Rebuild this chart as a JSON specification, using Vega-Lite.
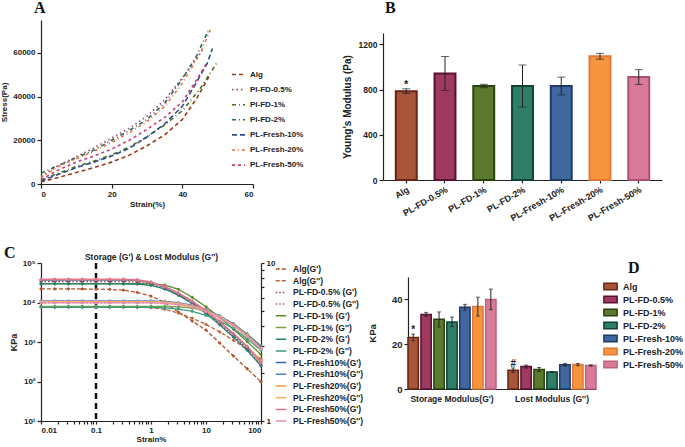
{
"$schema":"https://vega.github.io/schema/vega-lite/v6.json",
"padding":{"left":0,"top":0,"right":0,"bottom":0},
"config":{"view":{"stroke":null},
 "axis":{"labelFont":"Liberation Sans","titleFont":"Liberation Sans","labelFontWeight":"bold","titleFontWeight":"bold","labelColor":"#222","titleColor":"#222","domainColor":"#222","tickColor":"#222","grid":false,"domainWidth":1.2,"tickWidth":1.2,"tickSize":4,"labelPadding":2},
 "legend":{"labelFont":"Liberation Sans","labelFontWeight":"bold","labelColor":"#222","padding":0},
 "title":{"font":"Liberation Serif","fontWeight":"bold","fontSize":16,"color":"#111","frame":"group"}},
"resolve":{"scale":{"color":"independent","fill":"independent","stroke":"independent","strokeDash":"independent","shape":"independent"},"legend":{"color":"independent","fill":"independent","stroke":"independent","strokeDash":"independent","shape":"independent"}},
"spacing":22,
"vconcat":[
{"spacing":38,
 "resolve":{"scale":{"color":"independent","fill":"independent","stroke":"independent","strokeDash":"independent","shape":"independent"},"legend":{"color":"independent","fill":"independent","stroke":"independent","strokeDash":"independent","shape":"independent"}},
 "hconcat":[
 {"width":212,"height":164,
  "title":{"text":"A","anchor":"start","offset":4,"dx":-7},
  "data":{"values":[
   {"s":"Alg","x":0,"y":1000},{"s":"Alg","x":5,"y":3000},{"s":"Alg","x":10,"y":5300},{"s":"Alg","x":15,"y":7500},{"s":"Alg","x":20,"y":10000},{"s":"Alg","x":25,"y":13200},{"s":"Alg","x":30,"y":17500},{"s":"Alg","x":35,"y":22500},{"s":"Alg","x":40,"y":29500},{"s":"Alg","x":44,"y":39000},{"s":"Alg","x":47.5,"y":49000},
   {"s":"PI-FD-0.5%","x":0,"y":3500},{"s":"PI-FD-0.5%","x":5,"y":8500},{"s":"PI-FD-0.5%","x":10,"y":12500},{"s":"PI-FD-0.5%","x":15,"y":16500},{"s":"PI-FD-0.5%","x":20,"y":21000},{"s":"PI-FD-0.5%","x":25,"y":25500},{"s":"PI-FD-0.5%","x":30,"y":31000},{"s":"PI-FD-0.5%","x":35,"y":38500},{"s":"PI-FD-0.5%","x":40,"y":48500},{"s":"PI-FD-0.5%","x":44,"y":57500},{"s":"PI-FD-0.5%","x":46,"y":62000},
   {"s":"PI-FD-1%","x":0,"y":1800},{"s":"PI-FD-1%","x":5,"y":5000},{"s":"PI-FD-1%","x":10,"y":8000},{"s":"PI-FD-1%","x":15,"y":10500},{"s":"PI-FD-1%","x":20,"y":13300},{"s":"PI-FD-1%","x":25,"y":17000},{"s":"PI-FD-1%","x":30,"y":21500},{"s":"PI-FD-1%","x":35,"y":27000},{"s":"PI-FD-1%","x":40,"y":33500},{"s":"PI-FD-1%","x":45,"y":43500},{"s":"PI-FD-1%","x":48,"y":51000},{"s":"PI-FD-1%","x":50,"y":56000},
   {"s":"PI-FD-2%","x":0,"y":5000},{"s":"PI-FD-2%","x":5,"y":8500},{"s":"PI-FD-2%","x":10,"y":12000},{"s":"PI-FD-2%","x":15,"y":15500},{"s":"PI-FD-2%","x":20,"y":20000},{"s":"PI-FD-2%","x":25,"y":24500},{"s":"PI-FD-2%","x":30,"y":29500},{"s":"PI-FD-2%","x":35,"y":37000},{"s":"PI-FD-2%","x":40,"y":48000},{"s":"PI-FD-2%","x":44,"y":58500},{"s":"PI-FD-2%","x":47.3,"y":70000},
   {"s":"PL-Fresh-10%","x":0,"y":1300},{"s":"PL-Fresh-10%","x":5,"y":4500},{"s":"PL-Fresh-10%","x":10,"y":7500},{"s":"PL-Fresh-10%","x":15,"y":10000},{"s":"PL-Fresh-10%","x":20,"y":12800},{"s":"PL-Fresh-10%","x":25,"y":16300},{"s":"PL-Fresh-10%","x":30,"y":21500},{"s":"PL-Fresh-10%","x":35,"y":27500},{"s":"PL-Fresh-10%","x":40,"y":35500},{"s":"PL-Fresh-10%","x":44,"y":46500},{"s":"PL-Fresh-10%","x":47,"y":55000},{"s":"PL-Fresh-10%","x":48.5,"y":62000},
   {"s":"PL-Fresh-20%","x":0,"y":3000},{"s":"PL-Fresh-20%","x":5,"y":8000},{"s":"PL-Fresh-20%","x":10,"y":11500},{"s":"PL-Fresh-20%","x":15,"y":15000},{"s":"PL-Fresh-20%","x":20,"y":19000},{"s":"PL-Fresh-20%","x":25,"y":23500},{"s":"PL-Fresh-20%","x":30,"y":28500},{"s":"PL-Fresh-20%","x":35,"y":35500},{"s":"PL-Fresh-20%","x":40,"y":46000},{"s":"PL-Fresh-20%","x":45,"y":59500},{"s":"PL-Fresh-20%","x":48.2,"y":71500},
   {"s":"PL-Fresh-50%","x":0,"y":2000},{"s":"PL-Fresh-50%","x":5,"y":6500},{"s":"PL-Fresh-50%","x":10,"y":10000},{"s":"PL-Fresh-50%","x":15,"y":12800},{"s":"PL-Fresh-50%","x":20,"y":16000},{"s":"PL-Fresh-50%","x":25,"y":20000},{"s":"PL-Fresh-50%","x":30,"y":25000},{"s":"PL-Fresh-50%","x":35,"y":30500},{"s":"PL-Fresh-50%","x":40,"y":37500},{"s":"PL-Fresh-50%","x":44,"y":47500},{"s":"PL-Fresh-50%","x":47,"y":55500}
  ]},
  "mark":{"type":"line","strokeWidth":1.6},
  "encoding":{
   "x":{"field":"x","type":"quantitative","scale":{"domain":[0,60]},"axis":{"values":[0,20,40,60],"title":"Strain(%)","labelFontSize":8,"titleFontSize":8,"titlePadding":2}},
   "y":{"field":"y","type":"quantitative","scale":{"domain":[0,75000]},"axis":{"values":[0,20000,40000,60000],"format":"d","title":"Stress(Pa)","labelFontSize":8,"titleFontSize":8,"titlePadding":4}},
   "color":{"field":"s","type":"nominal","sort":null,"scale":{"domain":["Alg","PI-FD-0.5%","PI-FD-1%","PI-FD-2%","PL-Fresh-10%","PL-Fresh-20%","PL-Fresh-50%"],"range":["#9E3A1C","#A5407E","#4E6E1A","#1E6E58","#2E4E8E","#F0703E","#C8407A"]},"legend":{"orient":"none","legendX":190,"legendY":47,"title":null,"symbolType":"stroke","symbolSize":170,"symbolStrokeWidth":1.6,"labelFontSize":8,"rowPadding":3.1,"labelOffset":4}},
   "strokeDash":{"field":"s","type":"nominal","sort":null,"scale":{"domain":["Alg","PI-FD-0.5%","PI-FD-1%","PI-FD-2%","PL-Fresh-10%","PL-Fresh-20%","PL-Fresh-50%"],"range":[[4,3],[1.5,3],[4,3,1,3],[4,3,1,3],[5,3],[3,3,1,3],[3,3]]},"legend":{"orient":"none","legendX":190,"legendY":47,"title":null,"symbolType":"stroke","symbolSize":170,"symbolStrokeWidth":1.6,"labelFontSize":8,"rowPadding":3.1,"labelOffset":4}}
  }
 },
 {"width":279,"height":160,
  "title":{"text":"B","anchor":"start","offset":4,"dx":2},
  "data":{"values":[
   {"s":"Alg","v":785,"lo":765,"hi":807,"ann":"*"},
   {"s":"PL-FD-0.5%","v":942,"lo":792,"hi":1092,"ann":""},
   {"s":"PL-FD-1%","v":831,"lo":816,"hi":846,"ann":""},
   {"s":"PL-FD-2%","v":831,"lo":645,"hi":1017,"ann":""},
   {"s":"PL-Fresh-10%","v":831,"lo":752,"hi":910,"ann":""},
   {"s":"PL-Fresh-20%","v":1095,"lo":1068,"hi":1120,"ann":""},
   {"s":"PL-Fresh-50%","v":911,"lo":845,"hi":976,"ann":""}
  ]},
  "encoding":{"x":{"field":"s","type":"nominal","sort":null,"scale":{"paddingInner":0.46,"paddingOuter":0.33},"axis":{"title":null,"labelAngle":-30,"labelFontSize":9,"tickSize":3}}},
  "layer":[
   {"mark":{"type":"bar","strokeWidth":2},
    "encoding":{"y":{"field":"v","type":"quantitative","scale":{"domain":[0,1250],"range":[160,13]},"axis":{"values":[0,400,800,1200],"format":"d","title":"Young's Modulus (Pa)","labelFontSize":8.5,"titleFontSize":10,"titlePadding":6}},
     "fill":{"field":"s","type":"nominal","sort":null,"scale":{"domain":["Alg","PL-FD-0.5%","PL-FD-1%","PL-FD-2%","PL-Fresh-10%","PL-Fresh-20%","PL-Fresh-50%"],"range":["#A8553A","#9E3A60","#5C7A2C","#2E7E68","#41689E","#F7943E","#D97B98"]},"legend":null},
     "stroke":{"field":"s","type":"nominal","sort":null,"scale":{"domain":["Alg","PL-FD-0.5%","PL-FD-1%","PL-FD-2%","PL-Fresh-10%","PL-Fresh-20%","PL-Fresh-50%"],"range":["#6A2410","#5A1030","#2C4210","#0E4234","#1E3A66","#E07A38","#B0506E"]},"legend":null}}},
   {"mark":{"type":"rule","color":"#222","strokeWidth":1},"encoding":{"y":{"field":"lo","type":"quantitative"},"y2":{"field":"hi"}}},
   {"mark":{"type":"tick","color":"#222","thickness":1,"size":8},"encoding":{"y":{"field":"lo","type":"quantitative"}}},
   {"mark":{"type":"tick","color":"#222","thickness":1,"size":8},"encoding":{"y":{"field":"hi","type":"quantitative"}}},
   {"mark":{"type":"text","baseline":"bottom","dy":1,"fontSize":11,"fontWeight":"bold","font":"Liberation Sans","color":"#222"},"encoding":{"y":{"field":"hi","type":"quantitative"},"text":{"field":"ann"}}}
  ]
 }
]},
{"spacing":3,
 "resolve":{"scale":{"color":"independent","fill":"independent","stroke":"independent","strokeDash":"independent","shape":"independent"},"legend":{"color":"independent","fill":"independent","stroke":"independent","strokeDash":"independent","shape":"independent"}},
 "hconcat":[
 {"width":220,"height":158,
  "title":{"text":"C","anchor":"start","dx":-37,"dy":9,"offset":0},
  "layer":[
   {"data":{"values":[
{"s":"Alg(G')","x":0.01,"y":22000},{"s":"Alg(G')","x":0.0178,"y":22000},{"s":"Alg(G')","x":0.0316,"y":22000},{"s":"Alg(G')","x":0.0562,"y":22000},{"s":"Alg(G')","x":0.1,"y":21800},{"s":"Alg(G')","x":0.178,"y":21500},{"s":"Alg(G')","x":0.316,"y":20500},{"s":"Alg(G')","x":0.562,"y":18000},{"s":"Alg(G')","x":1,"y":14500},{"s":"Alg(G')","x":1.78,"y":10000},{"s":"Alg(G')","x":3.16,"y":5700},{"s":"Alg(G')","x":5.62,"y":3400},{"s":"Alg(G')","x":10,"y":2000},{"s":"Alg(G')","x":17.8,"y":940},{"s":"Alg(G')","x":31.6,"y":440},{"s":"Alg(G')","x":56.2,"y":210},{"s":"Alg(G')","x":100,"y":98},
{"s":"Alg(G'')","x":0.01,"y":7700},{"s":"Alg(G'')","x":0.0178,"y":7700},{"s":"Alg(G'')","x":0.0316,"y":7700},{"s":"Alg(G'')","x":0.0562,"y":7700},{"s":"Alg(G'')","x":0.1,"y":7700},{"s":"Alg(G'')","x":0.178,"y":7700},{"s":"Alg(G'')","x":0.316,"y":7700},{"s":"Alg(G'')","x":0.562,"y":7650},{"s":"Alg(G'')","x":1,"y":7400},{"s":"Alg(G'')","x":1.78,"y":6700},{"s":"Alg(G'')","x":3.16,"y":5400},{"s":"Alg(G'')","x":5.62,"y":4000},{"s":"Alg(G'')","x":10,"y":2800},{"s":"Alg(G'')","x":17.8,"y":1800},{"s":"Alg(G'')","x":31.6,"y":1100},{"s":"Alg(G'')","x":56.2,"y":650},{"s":"Alg(G'')","x":100,"y":370},
{"s":"PL-FD-0.5% (G')","x":0.01,"y":34000},{"s":"PL-FD-0.5% (G')","x":0.0178,"y":34000},{"s":"PL-FD-0.5% (G')","x":0.0316,"y":34000},{"s":"PL-FD-0.5% (G')","x":0.0562,"y":34000},{"s":"PL-FD-0.5% (G')","x":0.1,"y":34000},{"s":"PL-FD-0.5% (G')","x":0.178,"y":34000},{"s":"PL-FD-0.5% (G')","x":0.316,"y":34000},{"s":"PL-FD-0.5% (G')","x":0.562,"y":33000},{"s":"PL-FD-0.5% (G')","x":1,"y":28900},{"s":"PL-FD-0.5% (G')","x":1.78,"y":22100},{"s":"PL-FD-0.5% (G')","x":3.16,"y":15300},{"s":"PL-FD-0.5% (G')","x":5.62,"y":9500},{"s":"PL-FD-0.5% (G')","x":10,"y":5440},{"s":"PL-FD-0.5% (G')","x":17.8,"y":2890},{"s":"PL-FD-0.5% (G')","x":31.6,"y":1430},{"s":"PL-FD-0.5% (G')","x":56.2,"y":660},{"s":"PL-FD-0.5% (G')","x":100,"y":260},
{"s":"PL-FD-0.5% (G'')","x":0.01,"y":10000},{"s":"PL-FD-0.5% (G'')","x":0.0178,"y":10000},{"s":"PL-FD-0.5% (G'')","x":0.0316,"y":10000},{"s":"PL-FD-0.5% (G'')","x":0.0562,"y":10000},{"s":"PL-FD-0.5% (G'')","x":0.1,"y":10000},{"s":"PL-FD-0.5% (G'')","x":0.178,"y":10000},{"s":"PL-FD-0.5% (G'')","x":0.316,"y":10000},{"s":"PL-FD-0.5% (G'')","x":0.562,"y":10000},{"s":"PL-FD-0.5% (G'')","x":1,"y":10000},{"s":"PL-FD-0.5% (G'')","x":1.78,"y":9700},{"s":"PL-FD-0.5% (G'')","x":3.16,"y":9000},{"s":"PL-FD-0.5% (G'')","x":5.62,"y":7800},{"s":"PL-FD-0.5% (G'')","x":10,"y":6000},{"s":"PL-FD-0.5% (G'')","x":17.8,"y":4200},{"s":"PL-FD-0.5% (G'')","x":31.6,"y":2600},{"s":"PL-FD-0.5% (G'')","x":56.2,"y":1400},{"s":"PL-FD-0.5% (G'')","x":100,"y":700},
{"s":"PL-FD-1% (G')","x":0.01,"y":30000},{"s":"PL-FD-1% (G')","x":0.0178,"y":30000},{"s":"PL-FD-1% (G')","x":0.0316,"y":30000},{"s":"PL-FD-1% (G')","x":0.0562,"y":30000},{"s":"PL-FD-1% (G')","x":0.1,"y":30000},{"s":"PL-FD-1% (G')","x":0.178,"y":30000},{"s":"PL-FD-1% (G')","x":0.316,"y":30000},{"s":"PL-FD-1% (G')","x":0.562,"y":30000},{"s":"PL-FD-1% (G')","x":1,"y":29400},{"s":"PL-FD-1% (G')","x":1.78,"y":27600},{"s":"PL-FD-1% (G')","x":3.16,"y":21600},{"s":"PL-FD-1% (G')","x":5.62,"y":13500},{"s":"PL-FD-1% (G')","x":10,"y":7800},{"s":"PL-FD-1% (G')","x":17.8,"y":4200},{"s":"PL-FD-1% (G')","x":31.6,"y":2100},{"s":"PL-FD-1% (G')","x":56.2,"y":1020},{"s":"PL-FD-1% (G')","x":100,"y":480},
{"s":"PL-FD-1% (G'')","x":0.01,"y":8000},{"s":"PL-FD-1% (G'')","x":0.0178,"y":8000},{"s":"PL-FD-1% (G'')","x":0.0316,"y":8000},{"s":"PL-FD-1% (G'')","x":0.0562,"y":8000},{"s":"PL-FD-1% (G'')","x":0.1,"y":8000},{"s":"PL-FD-1% (G'')","x":0.178,"y":8000},{"s":"PL-FD-1% (G'')","x":0.316,"y":8000},{"s":"PL-FD-1% (G'')","x":0.562,"y":8000},{"s":"PL-FD-1% (G'')","x":1,"y":8000},{"s":"PL-FD-1% (G'')","x":1.78,"y":8000},{"s":"PL-FD-1% (G'')","x":3.16,"y":7760},{"s":"PL-FD-1% (G'')","x":5.62,"y":7200},{"s":"PL-FD-1% (G'')","x":10,"y":6000},{"s":"PL-FD-1% (G'')","x":17.8,"y":4400},{"s":"PL-FD-1% (G'')","x":31.6,"y":2900},{"s":"PL-FD-1% (G'')","x":56.2,"y":1600},{"s":"PL-FD-1% (G'')","x":100,"y":800},
{"s":"PL-FD-2% (G')","x":0.01,"y":29500},{"s":"PL-FD-2% (G')","x":0.0178,"y":29500},{"s":"PL-FD-2% (G')","x":0.0316,"y":29500},{"s":"PL-FD-2% (G')","x":0.0562,"y":29500},{"s":"PL-FD-2% (G')","x":0.1,"y":29500},{"s":"PL-FD-2% (G')","x":0.178,"y":29500},{"s":"PL-FD-2% (G')","x":0.316,"y":29500},{"s":"PL-FD-2% (G')","x":0.562,"y":29200},{"s":"PL-FD-2% (G')","x":1,"y":27100},{"s":"PL-FD-2% (G')","x":1.78,"y":22100},{"s":"PL-FD-2% (G')","x":3.16,"y":15300},{"s":"PL-FD-2% (G')","x":5.62,"y":9400},{"s":"PL-FD-2% (G')","x":10,"y":5300},{"s":"PL-FD-2% (G')","x":17.8,"y":2700},{"s":"PL-FD-2% (G')","x":31.6,"y":1330},{"s":"PL-FD-2% (G')","x":56.2,"y":620},{"s":"PL-FD-2% (G')","x":100,"y":250},
{"s":"PL-FD-2% (G'')","x":0.01,"y":7500},{"s":"PL-FD-2% (G'')","x":0.0178,"y":7500},{"s":"PL-FD-2% (G'')","x":0.0316,"y":7500},{"s":"PL-FD-2% (G'')","x":0.0562,"y":7500},{"s":"PL-FD-2% (G'')","x":0.1,"y":7500},{"s":"PL-FD-2% (G'')","x":0.178,"y":7500},{"s":"PL-FD-2% (G'')","x":0.316,"y":7500},{"s":"PL-FD-2% (G'')","x":0.562,"y":7500},{"s":"PL-FD-2% (G'')","x":1,"y":7500},{"s":"PL-FD-2% (G'')","x":1.78,"y":7300},{"s":"PL-FD-2% (G'')","x":3.16,"y":6800},{"s":"PL-FD-2% (G'')","x":5.62,"y":6000},{"s":"PL-FD-2% (G'')","x":10,"y":4700},{"s":"PL-FD-2% (G'')","x":17.8,"y":3400},{"s":"PL-FD-2% (G'')","x":31.6,"y":2200},{"s":"PL-FD-2% (G'')","x":56.2,"y":1200},{"s":"PL-FD-2% (G'')","x":100,"y":620},
{"s":"PL-Fresh10%(G')","x":0.01,"y":37000},{"s":"PL-Fresh10%(G')","x":0.0178,"y":37000},{"s":"PL-Fresh10%(G')","x":0.0316,"y":37000},{"s":"PL-Fresh10%(G')","x":0.0562,"y":37000},{"s":"PL-Fresh10%(G')","x":0.1,"y":37000},{"s":"PL-Fresh10%(G')","x":0.178,"y":37000},{"s":"PL-Fresh10%(G')","x":0.316,"y":37000},{"s":"PL-Fresh10%(G')","x":0.562,"y":35900},{"s":"PL-Fresh10%(G')","x":1,"y":31450},{"s":"PL-Fresh10%(G')","x":1.78,"y":24050},{"s":"PL-Fresh10%(G')","x":3.16,"y":16650},{"s":"PL-Fresh10%(G')","x":5.62,"y":10360},{"s":"PL-Fresh10%(G')","x":10,"y":5920},{"s":"PL-Fresh10%(G')","x":17.8,"y":3150},{"s":"PL-Fresh10%(G')","x":31.6,"y":1550},{"s":"PL-Fresh10%(G')","x":56.2,"y":740},{"s":"PL-Fresh10%(G')","x":100,"y":315},
{"s":"PL-Fresh10%(G'')","x":0.01,"y":11000},{"s":"PL-Fresh10%(G'')","x":0.0178,"y":11000},{"s":"PL-Fresh10%(G'')","x":0.0316,"y":11000},{"s":"PL-Fresh10%(G'')","x":0.0562,"y":11000},{"s":"PL-Fresh10%(G'')","x":0.1,"y":11000},{"s":"PL-Fresh10%(G'')","x":0.178,"y":11000},{"s":"PL-Fresh10%(G'')","x":0.316,"y":11000},{"s":"PL-Fresh10%(G'')","x":0.562,"y":11000},{"s":"PL-Fresh10%(G'')","x":1,"y":11000},{"s":"PL-Fresh10%(G'')","x":1.78,"y":10700},{"s":"PL-Fresh10%(G'')","x":3.16,"y":9900},{"s":"PL-Fresh10%(G'')","x":5.62,"y":8600},{"s":"PL-Fresh10%(G'')","x":10,"y":6600},{"s":"PL-Fresh10%(G'')","x":17.8,"y":4600},{"s":"PL-Fresh10%(G'')","x":31.6,"y":2860},{"s":"PL-Fresh10%(G'')","x":56.2,"y":1540},{"s":"PL-Fresh10%(G'')","x":100,"y":770},
{"s":"PL-Fresh20%(G')","x":0.01,"y":38000},{"s":"PL-Fresh20%(G')","x":0.0178,"y":38000},{"s":"PL-Fresh20%(G')","x":0.0316,"y":38000},{"s":"PL-Fresh20%(G')","x":0.0562,"y":38000},{"s":"PL-Fresh20%(G')","x":0.1,"y":38000},{"s":"PL-Fresh20%(G')","x":0.178,"y":38000},{"s":"PL-Fresh20%(G')","x":0.316,"y":38000},{"s":"PL-Fresh20%(G')","x":0.562,"y":36900},{"s":"PL-Fresh20%(G')","x":1,"y":32300},{"s":"PL-Fresh20%(G')","x":1.78,"y":24700},{"s":"PL-Fresh20%(G')","x":3.16,"y":17100},{"s":"PL-Fresh20%(G')","x":5.62,"y":10640},{"s":"PL-Fresh20%(G')","x":10,"y":6080},{"s":"PL-Fresh20%(G')","x":17.8,"y":3230},{"s":"PL-Fresh20%(G')","x":31.6,"y":1600},{"s":"PL-Fresh20%(G')","x":56.2,"y":760},{"s":"PL-Fresh20%(G')","x":100,"y":340},
{"s":"PL-Fresh20%(G'')","x":0.01,"y":10500},{"s":"PL-Fresh20%(G'')","x":0.0178,"y":10500},{"s":"PL-Fresh20%(G'')","x":0.0316,"y":10500},{"s":"PL-Fresh20%(G'')","x":0.0562,"y":10500},{"s":"PL-Fresh20%(G'')","x":0.1,"y":10500},{"s":"PL-Fresh20%(G'')","x":0.178,"y":10500},{"s":"PL-Fresh20%(G'')","x":0.316,"y":10500},{"s":"PL-Fresh20%(G'')","x":0.562,"y":10500},{"s":"PL-Fresh20%(G'')","x":1,"y":10500},{"s":"PL-Fresh20%(G'')","x":1.78,"y":10200},{"s":"PL-Fresh20%(G'')","x":3.16,"y":9450},{"s":"PL-Fresh20%(G'')","x":5.62,"y":8200},{"s":"PL-Fresh20%(G'')","x":10,"y":6300},{"s":"PL-Fresh20%(G'')","x":17.8,"y":4400},{"s":"PL-Fresh20%(G'')","x":31.6,"y":2700},{"s":"PL-Fresh20%(G'')","x":56.2,"y":1470},{"s":"PL-Fresh20%(G'')","x":100,"y":680},
{"s":"PL-Fresh50%(G')","x":0.01,"y":39000},{"s":"PL-Fresh50%(G')","x":0.0178,"y":39000},{"s":"PL-Fresh50%(G')","x":0.0316,"y":39000},{"s":"PL-Fresh50%(G')","x":0.0562,"y":39000},{"s":"PL-Fresh50%(G')","x":0.1,"y":39000},{"s":"PL-Fresh50%(G')","x":0.178,"y":39000},{"s":"PL-Fresh50%(G')","x":0.316,"y":39000},{"s":"PL-Fresh50%(G')","x":0.562,"y":37800},{"s":"PL-Fresh50%(G')","x":1,"y":33150},{"s":"PL-Fresh50%(G')","x":1.78,"y":25350},{"s":"PL-Fresh50%(G')","x":3.16,"y":17550},{"s":"PL-Fresh50%(G')","x":5.62,"y":10900},{"s":"PL-Fresh50%(G')","x":10,"y":6240},{"s":"PL-Fresh50%(G')","x":17.8,"y":3300},{"s":"PL-Fresh50%(G')","x":31.6,"y":1640},{"s":"PL-Fresh50%(G')","x":56.2,"y":780},{"s":"PL-Fresh50%(G')","x":100,"y":290},
{"s":"PL-Fresh50%(G'')","x":0.01,"y":9800},{"s":"PL-Fresh50%(G'')","x":0.0178,"y":9800},{"s":"PL-Fresh50%(G'')","x":0.0316,"y":9800},{"s":"PL-Fresh50%(G'')","x":0.0562,"y":9800},{"s":"PL-Fresh50%(G'')","x":0.1,"y":9800},{"s":"PL-Fresh50%(G'')","x":0.178,"y":9800},{"s":"PL-Fresh50%(G'')","x":0.316,"y":9800},{"s":"PL-Fresh50%(G'')","x":0.562,"y":9800},{"s":"PL-Fresh50%(G'')","x":1,"y":9800},{"s":"PL-Fresh50%(G'')","x":1.78,"y":9500},{"s":"PL-Fresh50%(G'')","x":3.16,"y":8800},{"s":"PL-Fresh50%(G'')","x":5.62,"y":7650},{"s":"PL-Fresh50%(G'')","x":10,"y":5900},{"s":"PL-Fresh50%(G'')","x":17.8,"y":4100},{"s":"PL-Fresh50%(G'')","x":31.6,"y":2550},{"s":"PL-Fresh50%(G'')","x":56.2,"y":1370},{"s":"PL-Fresh50%(G'')","x":100,"y":660}
   ]},
   "layer":[
    {"data":{"values":[{"x":0.1}]},"mark":{"type":"rule","strokeDash":[6,4],"strokeWidth":2.5,"color":"#111"},"encoding":{"x":{"field":"x","type":"quantitative","scale":{"type":"log","domain":[0.01,100]}}}},
    {"mark":{"type":"line","strokeWidth":1.3},
     "encoding":{
      "x":{"field":"x","type":"quantitative","scale":{"type":"log","domain":[0.01,100]},"axis":{"values":[0.01,0.02,0.03,0.04,0.05,0.06,0.07,0.08,0.09,0.1,0.2,0.3,0.4,0.5,0.6,0.7,0.8,0.9,1,2,3,4,5,6,7,8,9,10,20,30,40,50,60,70,80,90,100],"format":"~g","labelExpr":"abs(log(datum.value)/LN10-round(log(datum.value)/LN10))<0.001?datum.label:''","title":"Strain%","labelFontSize":8,"titleFontSize":8,"tickSize":3,"titlePadding":1}},
      "y":{"field":"y","type":"quantitative","scale":{"type":"log","domain":[10,100000]},"axis":{"values":[10,100,1000,10000,100000],"labelExpr":"datum.value==10?'10¹':datum.value==100?'10²':datum.value==1000?'10³':datum.value==10000?'10⁴':'10⁵'","title":"KPa","labelFontSize":8,"titleFontSize":9,"titlePadding":4}},
      "color":{"field":"s","type":"nominal","sort":null,"scale":{"domain":["Alg(G')","Alg(G'')","PL-FD-0.5% (G')","PL-FD-0.5% (G'')","PL-FD-1% (G')","PL-FD-1% (G'')","PL-FD-2% (G')","PL-FD-2% (G'')","PL-Fresh10%(G')","PL-Fresh10%(G'')","PL-Fresh20%(G')","PL-Fresh20%(G'')","PL-Fresh50%(G')","PL-Fresh50%(G'')"],"range":["#B4532A","#C0643C","#A0306A","#B0508A","#5E8A2A","#78A040","#24806A","#3A9A80","#3A66B0","#5580C0","#F59A3A","#F8B060","#E0709A","#E890B0"]},"legend":{"orient":"right","offset":0,"title":null,"symbolType":"stroke","symbolSize":110,"symbolStrokeWidth":1.5,"labelFontSize":8.5,"rowPadding":0.7,"labelOffset":6}},
      "strokeDash":{"field":"s","type":"nominal","sort":null,"scale":{"domain":["Alg(G')","Alg(G'')","PL-FD-0.5% (G')","PL-FD-0.5% (G'')","PL-FD-1% (G')","PL-FD-1% (G'')","PL-FD-2% (G')","PL-FD-2% (G'')","PL-Fresh10%(G')","PL-Fresh10%(G'')","PL-Fresh20%(G')","PL-Fresh20%(G'')","PL-Fresh50%(G')","PL-Fresh50%(G'')"],"range":[[4,2],[4,2],[1.5,2],[1.5,2],[1,0],[1,0],[1,0],[1,0],[1,0],[1,0],[1,0],[1,0],[1,0],[1,0]]},"legend":{"orient":"right","offset":0,"title":null,"symbolType":"stroke","symbolSize":110,"symbolStrokeWidth":1.5,"labelFontSize":8.5,"rowPadding":0.7,"labelOffset":6}}
     }},
    {"mark":{"type":"point","filled":true,"size":14,"opacity":1,"shape":"diamond"},
     "encoding":{
      "x":{"field":"x","type":"quantitative","scale":{"type":"log","domain":[0.01,100]}},
      "y":{"field":"y","type":"quantitative","scale":{"type":"log","domain":[10,100000]}},
      "color":{"field":"s","type":"nominal","sort":null,"scale":{"domain":["Alg(G')","Alg(G'')","PL-FD-0.5% (G')","PL-FD-0.5% (G'')","PL-FD-1% (G')","PL-FD-1% (G'')","PL-FD-2% (G')","PL-FD-2% (G'')","PL-Fresh10%(G')","PL-Fresh10%(G'')","PL-Fresh20%(G')","PL-Fresh20%(G'')","PL-Fresh50%(G')","PL-Fresh50%(G'')"],"range":["#B4532A","#C0643C","#A0306A","#B0508A","#5E8A2A","#78A040","#24806A","#3A9A80","#3A66B0","#5580C0","#F59A3A","#F8B060","#E0709A","#E890B0"]},"legend":null}
     }}
   ]},
   {"data":{"values":[{"x":0.01,"r":1},{"x":100,"r":10}]},
    "mark":{"type":"point","opacity":0},
    "encoding":{
     "x":{"field":"x","type":"quantitative","scale":{"type":"log","domain":[0.01,100]},"axis":{"orient":"top","title":"Storage (G') & Lost Modulus (G'')","labels":false,"ticks":false,"domain":false,"titleFontSize":8.5,"titlePadding":2}},
     "y":{"field":"r","type":"quantitative","scale":{"type":"log","domain":[1,10]},"axis":{"orient":"right","values":[1,2,3,4,5,6,7,8,9,10],"labelExpr":"datum.value==1||datum.value==10?datum.label:''","title":null,"labelFontSize":8,"tickSize":3}}
    }}
  ],
  "resolve":{"scale":{"y":"independent"},"axis":{"x":"independent","y":"independent"}}
 },
 {"width":188,"height":126,
  "title":{"text":"D","anchor":"start","dx":220,"dy":13,"offset":0},
  "data":{"values":[
   {"g":"Storage Modulus(G')","s":"Alg","v":23,"lo":21.5,"hi":24.5,"ann":"*"},
   {"g":"Storage Modulus(G')","s":"PL-FD-0.5%","v":33.3,"lo":32.4,"hi":34.2,"ann":""},
   {"g":"Storage Modulus(G')","s":"PL-FD-1%","v":31.1,"lo":27.7,"hi":34.4,"ann":""},
   {"g":"Storage Modulus(G')","s":"PL-FD-2%","v":29.9,"lo":27.8,"hi":32.1,"ann":""},
   {"g":"Storage Modulus(G')","s":"PL-Fresh-10%","v":36.5,"lo":35.2,"hi":37.8,"ann":""},
   {"g":"Storage Modulus(G')","s":"PL-Fresh-20%","v":36.8,"lo":32.6,"hi":41,"ann":""},
   {"g":"Storage Modulus(G')","s":"PL-Fresh-50%","v":40,"lo":35.4,"hi":44.6,"ann":""},
   {"g":"Lost Modulus (G'')","s":"Alg","v":8.4,"lo":7.4,"hi":9.4,"ann":"#"},
   {"g":"Lost Modulus (G'')","s":"PL-FD-0.5%","v":10,"lo":9.3,"hi":10.7,"ann":""},
   {"g":"Lost Modulus (G'')","s":"PL-FD-1%","v":8.7,"lo":7.8,"hi":9.6,"ann":""},
   {"g":"Lost Modulus (G'')","s":"PL-FD-2%","v":7.6,"lo":7.4,"hi":7.8,"ann":""},
   {"g":"Lost Modulus (G'')","s":"PL-Fresh-10%","v":10.8,"lo":10.2,"hi":11.4,"ann":""},
   {"g":"Lost Modulus (G'')","s":"PL-Fresh-20%","v":10.9,"lo":10.4,"hi":11.4,"ann":""},
   {"g":"Lost Modulus (G'')","s":"PL-Fresh-50%","v":10.5,"lo":10.2,"hi":10.8,"ann":""}
  ]},
  "encoding":{
   "x":{"field":"g","type":"nominal","sort":null,"scale":{"paddingInner":0.12,"paddingOuter":0},"axis":{"title":null,"labelAngle":0,"ticks":false,"labelFontSize":8.5,"labelPadding":5}},
   "xOffset":{"field":"s","type":"nominal","sort":null,"scale":{"paddingInner":0.2,"paddingOuter":0}}
  },
  "layer":[
   {"mark":{"type":"bar","strokeWidth":1.5},
    "encoding":{"y":{"field":"v","type":"quantitative","scale":{"domain":[0,50],"range":[126,14]},"axis":{"values":[0,10,20,30,40,50],"title":"KPa","labelFontSize":9.5,"titleFontSize":9.5,"titlePadding":14}},
     "fill":{"field":"s","type":"nominal","sort":null,"scale":{"domain":["Alg","PL-FD-0.5%","PL-FD-1%","PL-FD-2%","PL-Fresh-10%","PL-Fresh-20%","PL-Fresh-50%"],"range":["#A8553A","#9E3A60","#5C7A2C","#2E7E68","#41689E","#F7943E","#D97B98"]},"legend":{"orient":"none","legendX":196,"legendY":17,"title":null,"symbolType":"M-1.2,-0.6H1.2V0.6H-1.2Z","symbolSize":121,"symbolStrokeWidth":1.5,"labelFontSize":9,"rowPadding":0,"labelOffset":6}},
     "stroke":{"field":"s","type":"nominal","sort":null,"scale":{"domain":["Alg","PL-FD-0.5%","PL-FD-1%","PL-FD-2%","PL-Fresh-10%","PL-Fresh-20%","PL-Fresh-50%"],"range":["#6A2410","#5A1030","#2C4210","#0E4234","#1E3A66","#E07A38","#C0607E"]},"legend":{"orient":"none","legendX":196,"legendY":17,"title":null,"symbolType":"M-1.2,-0.6H1.2V0.6H-1.2Z","symbolSize":121,"symbolStrokeWidth":1.5,"labelFontSize":9,"rowPadding":0,"labelOffset":6}}}},
   {"mark":{"type":"rule","color":"#222","strokeWidth":1},"encoding":{"y":{"field":"lo","type":"quantitative"},"y2":{"field":"hi"}}},
   {"mark":{"type":"tick","color":"#222","thickness":1,"size":4},"encoding":{"y":{"field":"lo","type":"quantitative"}}},
   {"mark":{"type":"tick","color":"#222","thickness":1,"size":4},"encoding":{"y":{"field":"hi","type":"quantitative"}}},
   {"mark":{"type":"text","baseline":"bottom","dy":1,"fontSize":10,"fontWeight":"bold","font":"Liberation Sans","color":"#222"},"encoding":{"y":{"field":"hi","type":"quantitative"},"text":{"field":"ann"}}}
  ]
 }
]}
]
}
